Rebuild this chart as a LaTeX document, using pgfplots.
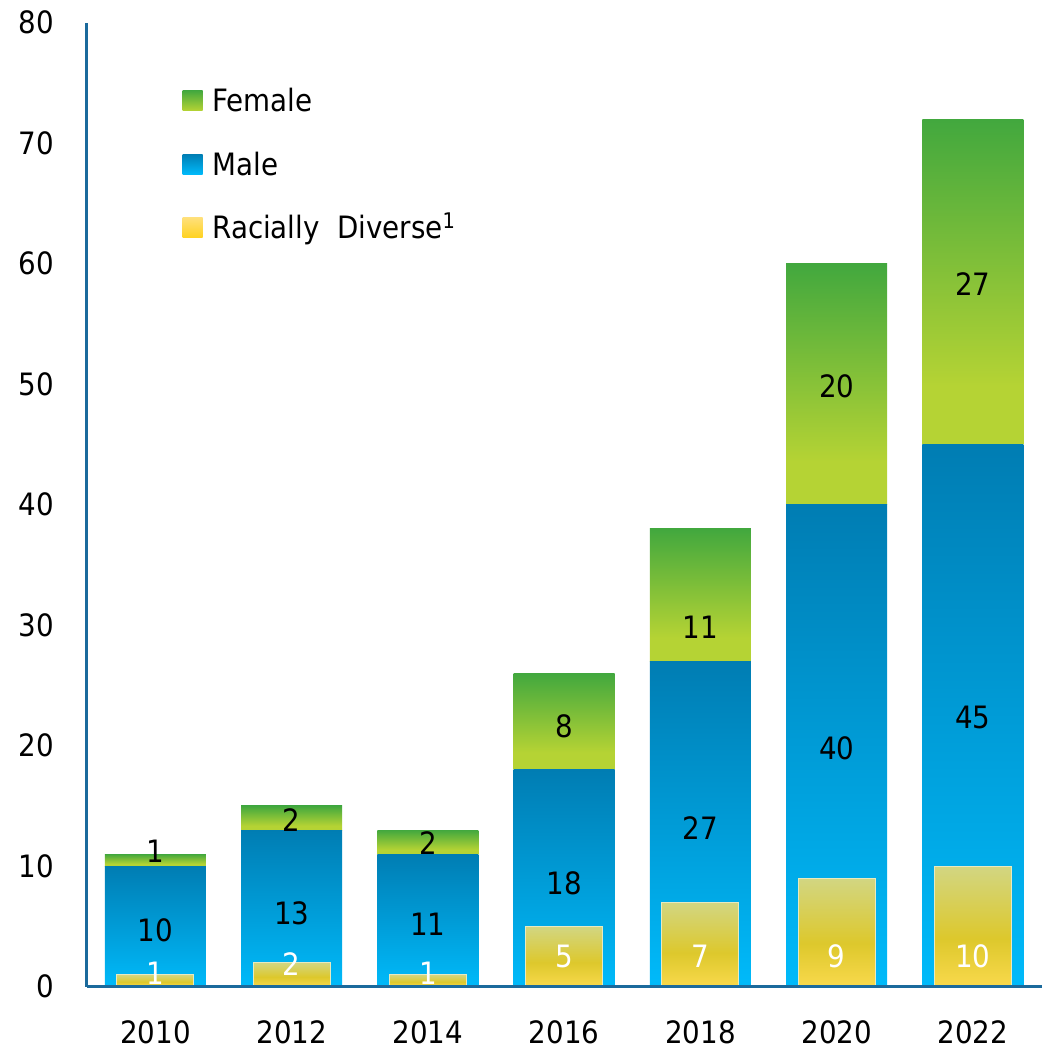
\documentclass[border=0pt]{standalone}
\usepackage{pgfplots}
\pgfplotsset{compat=1.18}
\usepackage{pgfplotstable}
\usepackage{fontspec}
\setmainfont{DejaVu Sans Condensed}
\definecolor{axisblue}{HTML}{1B6A9C}
\definecolor{maletop}{HTML}{007DB3}
\definecolor{malebot}{HTML}{00BAFA}
\definecolor{femtop}{HTML}{42A83E}
\definecolor{fembot}{HTML}{B5D334}
\definecolor{ytop}{HTML}{D2D682}
\definecolor{ymid}{HTML}{DDC82C}
\definecolor{ybot}{HTML}{F9D94C}
\definecolor{legy1}{HTML}{FFE07A}
\definecolor{legy2}{HTML}{FFD21F}
\pgfdeclareverticalshading{yshade}{100bp}{color(0bp)=(ybot); color(25bp)=(ybot); color(45bp)=(ymid); color(75bp)=(ytop); color(100bp)=(ytop)}
\pgfdeclareverticalshading{fshade}{100bp}{color(0bp)=(fembot); color(25bp)=(fembot); color(34bp)=(fembot); color(75bp)=(femtop); color(100bp)=(femtop)}

\pgfplotstableread{
x male female racial ym yf yr
0 10 1 1 4.7 11.2 1.1
1 13 2 2 6.1 13.8 1.9
2 11 2 1 5.2 11.9 1.1
3 18 8 5 8.6 21.6 2.5
4 27 11 7 13.2 29.8 2.5
5 40 20 9 19.8 49.8 2.5
6 45 27 10 22.3 58.3 2.5
}\data

\pgfplotsset{
  common/.style={
    width=477.5pt, height=482pt, scale only axis,
    xmin=-0.505, xmax=6.505, ymin=0, ymax=80,
    at={(0,0)}, anchor=south west,
  },
}
\begin{document}
\begin{tikzpicture}[font=\fontsize{15.4pt}{18pt}\selectfont]
\pgfplotsinvokeforeach{0,...,6}{
\begin{axis}[common, hide axis, ybar stacked, bar width=50.5pt]
\addplot[draw=none, top color=maletop, bottom color=malebot, restrict x to domain=#1:#1] table[x=x,y=male]{\data};
\addplot[draw=none, shading=fshade, restrict x to domain=#1:#1] table[x=x,y=female]{\data};
\end{axis}
}
\begin{axis}[common,
  axis lines*=left, axis line style={axisblue, line width=1.5pt, -},
  axis on top,
  xtick={0,...,6}, xticklabels={2010,2012,2014,2016,2018,2020,2022},
  ytick={0,10,...,80},
  major tick length=0pt,
  tick style={draw=none},
  xticklabel style={anchor=north, inner sep=0pt, yshift=-17pt},
  yticklabel style={anchor=east, inner sep=0pt, xshift=-16.3pt},
  /pgf/number format/assume math mode=true,
  ticklabel style={font=\fontsize{15.4pt}{18pt}\selectfont},
  legend style={at={(0.1005,0.935)}, anchor=north west, draw=none, fill=none,
    inner sep=0pt, outer sep=0pt, row sep=16.6pt,
    nodes={text height=11.2pt, text depth=0pt, inner xsep=4.9pt, inner ysep=2pt}},
  legend cell align=left,
  legend image code/.code={\path[#1, draw=none] (0pt,-5pt) rectangle (10pt,5pt);},
]
\addlegendimage{top color=femtop, bottom color=fembot}
\addlegendentry{Female}
\addlegendimage{top color=maletop, bottom color=malebot}
\addlegendentry{Male}
\addlegendimage{top color=legy1, bottom color=legy2}
\addlegendentry{Racially\ \ Diverse\textsuperscript{1}}

\pgfplotsinvokeforeach{0,...,6}{
\addplot[ybar, bar width=38.5pt, bar shift=0pt, forget plot,
  draw=ytop!50!white, line width=0.5pt,
  shading=yshade,
  restrict x to domain=#1:#1]
  table[x=x,y=racial]{\data};
}

\addplot[draw=none, forget plot, nodes near coords, point meta=explicit symbolic,
  every node near coord/.append style={anchor=center, inner sep=0pt, text=black}]
  table[x=x, y=ym, meta=male]{\data};
\addplot[draw=none, forget plot, nodes near coords, point meta=explicit symbolic,
  every node near coord/.append style={anchor=center, inner sep=0pt, text=black}]
  table[x=x, y=yf, meta=female]{\data};
\addplot[draw=none, forget plot, nodes near coords, point meta=explicit symbolic,
  every node near coord/.append style={anchor=center, inner sep=0pt, text=white}]
  table[x=x, y=yr, meta=racial]{\data};
\end{axis}
\pgfresetboundingbox
\path (-43.35pt,-31.65pt) rectangle (479.65pt,493.35pt);
\end{tikzpicture}
\end{document}
